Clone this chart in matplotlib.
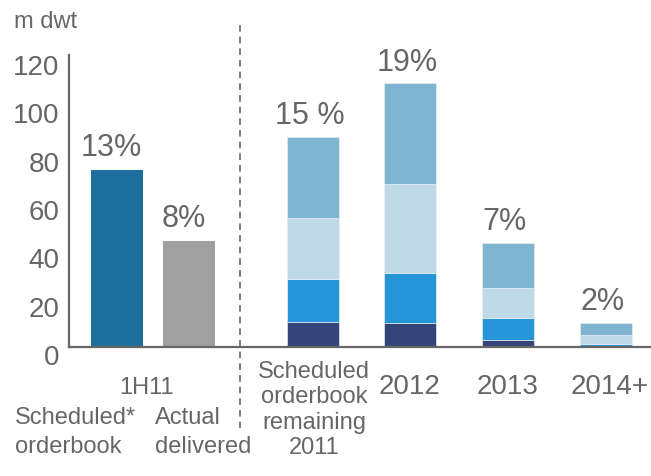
import numpy as np
import matplotlib.pyplot as plt
import matplotlib.transforms as mtransforms
from matplotlib.lines import Line2D

plt.rcParams['font.family'] = ['Liberation Sans', 'DejaVu Sans']
grey = '#666666'

# left group: 1H11
left_values = [73.3, 44.0]
left_colors = ['#1d6f9e', '#a0a0a0']
left_pcts = ['13%', '8%']

# right group: stacked orderbook (bottom -> top)
years = ['Scheduled\norderbook\nremaining\n2011', '2012', '2013', '2014+']
seg_thin = [0.6, 0.6, 0.0, 0.0]
seg_navy = [9.8, 9.3, 2.8, 0.2]
seg_blue = [17.8, 20.9, 9.0, 1.2]
seg_light = [25.0, 36.5, 12.8, 3.6]
seg_mid = [33.8, 41.8, 18.5, 5.0]
right_pcts = ['15 %', '19%', '7%', '2%']
seg_colors = ['#3a3fd0', '#34457a', '#2596d8', '#c0d9e6', '#80b5cf']

yticks = [0, 20, 40, 60, 80, 100, 120]

W, H = 651, 476
fig = plt.figure(figsize=(6.51, 4.76), dpi=100)
ax = fig.add_axes([69 / W, 129 / H, 582 / W, 292 / H])

left_x = [47.5, 120]
right_x = [244, 341, 439, 536.5]
bw = 52

ax.bar(left_x, left_values, width=bw, color=left_colors)
for x, v, p in zip(left_x, left_values, left_pcts):
    ax.annotate(p, (x - 5, v), xytext=(0, 5), textcoords='offset points',
                ha='center', va='bottom', fontsize=22, color=grey)

bottom = np.zeros(len(years))
for seg, c in zip([seg_thin, seg_navy, seg_blue, seg_light, seg_mid], seg_colors):
    ax.bar(right_x, seg, width=bw, bottom=bottom, color=c,
           edgecolor='#e6eef4', linewidth=0.5)
    bottom += np.array(seg)
for x, v, p in zip(right_x, bottom, right_pcts):
    ax.annotate(p, (x - 3, v), xytext=(0, 4), textcoords='offset points',
                ha='center', va='bottom', fontsize=22, color=grey)

ax.set_xlim(0, 582)
ax.set_ylim(0, 120.8)
ax.set_yticks(yticks)
ax.set_xticks([])
ax.tick_params(axis='y', length=0, pad=7, labelsize=20, labelcolor=grey)
offset = mtransforms.ScaledTranslation(0, -8 / 100, fig.dpi_scale_trans)
for lab in ax.get_yticklabels():
    lab.set_transform(lab.get_transform() + offset)
for s in ['top', 'right']:
    ax.spines[s].set_visible(False)
for s in ['left', 'bottom']:
    ax.spines[s].set_color(grey)
    ax.spines[s].set_linewidth(1.6)

# separator
fig.add_artist(Line2D([240 / W, 240 / W], [1 - 25 / H, 1 - 428 / H],
                      color=grey, lw=1.2, ls=(0, (4, 3))))

def ftext(x, y, s, **kw):
    fig.text(x / W, 1 - y / H, s, color=grey, va='center', **kw)

ftext(14, 22, 'm dwt', fontsize=17, ha='left')
ftext(147, 388, '1H11', fontsize=17, ha='center')
ftext(15, 418, 'Scheduled*', fontsize=17, ha='left')
ftext(15, 447, 'orderbook', fontsize=17, ha='left')
ftext(155, 418, 'Actual', fontsize=17, ha='left')
ftext(155, 447, 'delivered', fontsize=17, ha='left')
fig.text(314 / W, 1 - 361 / H, years[0], color=grey,
         fontsize=17, ha='center', va='top', linespacing=1.2)
for x, s in zip([410, 508, 610], years[1:]):
    ftext(x, 387, s, fontsize=20, ha='center')

fig.savefig('out.png', dpi=100)
